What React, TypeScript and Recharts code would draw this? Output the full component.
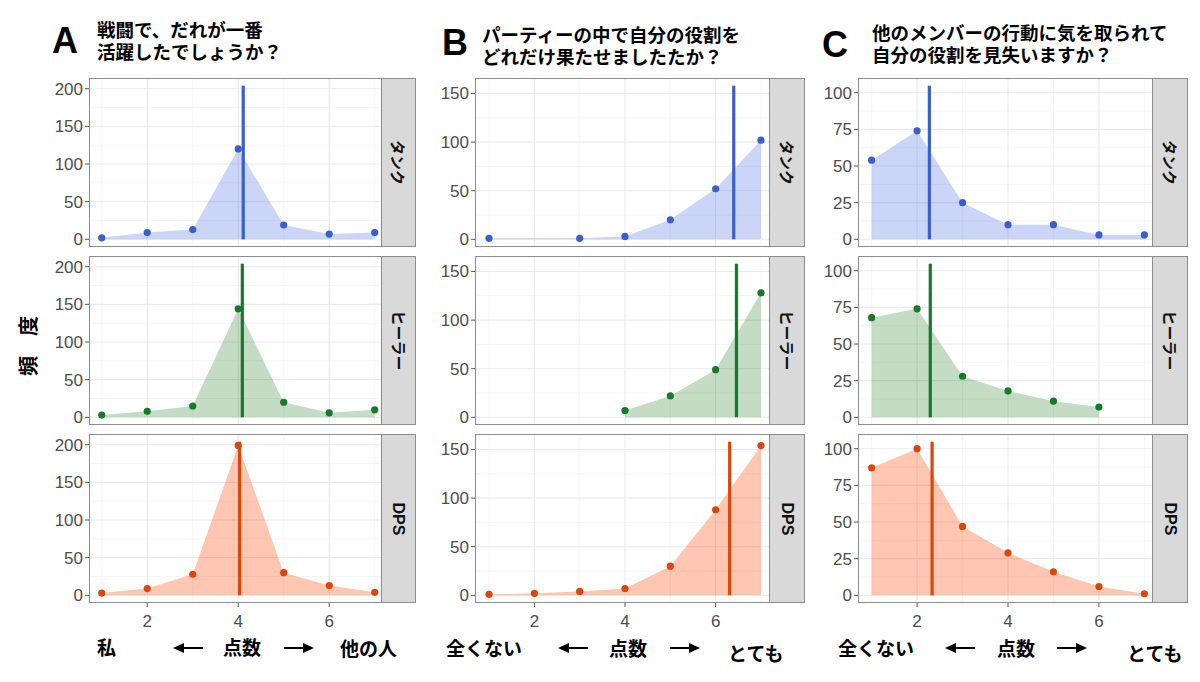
import React from 'react';
import { ComposedChart, Area, Line, XAxis, YAxis, CartesianGrid, ReferenceLine } from 'recharts';

const scores = [1, 2, 3, 4, 5, 6, 7];
const roles = ['タンク', 'ヒーラー', 'DPS'];

// A: 戦闘で、だれが一番活躍したでしょうか？
const aTank = [2, 9, 13, 120, 19, 7, 9];
const aHealer = [3, 8, 15, 144, 20, 6, 10];
const aDps = [3, 9, 28, 199, 30, 13, 4];
const aMeans = [4.11, 4.09, 4.03];

// B: パーティーの中で自分の役割をどれだけ果たせましたたか？
const bTank = [1, null, 1, 3, 20, 52, 102];
const bHealer = [null, null, null, 7, 22, 49, 128];
const bDps = [1, 2, 4, 7, 30, 88, 154];
const bMeans = [6.4, 6.46, 6.31];

// C: 他のメンバーの行動に気を取られて自分の役割を見失いますか？
const cTank = [54, 74, 25, 10, 10, 3, 3];
const cHealer = [68, 74, 28, 18, 11, 7, null];
const cDps = [87, 100, 47, 29, 16, 6, 1];
const cMeans = [2.27, 2.29, 2.33];

// top of the mean line in each column
const meanLineTops = [204, 158, 104.8];

const aTicks = [0, 50, 100, 150, 200];
const aMinor = [25, 75, 125, 175];
const bTicks = [0, 50, 100, 150];
const bMinor = [25, 75, 125];
const cTicks = [0, 25, 50, 75, 100];
const cMinor = [12.5, 37.5, 62.5, 87.5];
const xTicks = [2, 4, 6];
const xMinor = [1, 3, 5, 7];

const roleColors = ['#3A5FCD', '#17792A', '#D9470E'];
const roleFills = ['#4169E1', '#006400', '#FF4500'];
const roleFillOpacity = [0.28, 0.23, 0.3];

const ROW_TOPS = [78, 256, 434];
const PLOT_H = 169;
const Y_W = 60;
const X_H = 34;
const PAD_B = 12;
const BORDER = '#8C8C8C';
const TICK_FONT = { fill: '#4D4D4D', fontSize: 17, fontFamily: 'Liberation Sans, Arial, sans-serif' };
const JP = '"Noto Sans CJK JP", "Noto Sans", sans-serif';

const columns = [
  {
    series: [aTank, aHealer, aDps], means: aMeans, lineTop: meanLineTops[0],
    left: 89, width: 293, strip: 35, xDomain: [0.72, 7.16], yDomain: [-10.2, 214.2], yTicks: aTicks, yMinor: aMinor,
  },
  {
    series: [bTank, bHealer, bDps], means: bMeans, lineTop: meanLineTops[1],
    left: 475, width: 295, strip: 36, xDomain: [0.69, 7.2], yDomain: [-7.9, 165.9], yTicks: bTicks, yMinor: bMinor,
  },
  {
    series: [cTank, cHealer, cDps], means: cMeans, lineTop: meanLineTops[2],
    left: 858, width: 295, strip: 36, xDomain: [0.7, 7.19], yDomain: [-5.24, 110.04], yTicks: cTicks, yMinor: cMinor,
  },
];

function Facet({ col, row }: { col: any; row: number }) {
  const values = col.series[row];
  const data = scores.map((x, i) => ({ x, y: values[i] }));
  const showX = row === 2;
  const top = ROW_TOPS[row];
  const mean = col.means[row];
  return (
    <>
      <div style={{ position: 'absolute', left: col.left - Y_W, top }}>
        <ComposedChart
          width={Y_W + col.width}
          height={PLOT_H + (showX ? X_H : PAD_B)}
          data={data}
          margin={{ top: 0, right: 0, bottom: showX ? 0 : PAD_B, left: 0 }}
        >
          <CartesianGrid horizontalValues={col.yMinor} verticalValues={xMinor} stroke="#F2F2F2" strokeWidth={0.8} />
          <CartesianGrid horizontalValues={col.yTicks} verticalValues={xTicks} stroke="#EAEAEA" strokeWidth={1.1} />
          <XAxis
            type="number"
            dataKey="x"
            domain={col.xDomain}
            ticks={xTicks}
            interval={0}
            allowDataOverflow
            hide={!showX}
            height={X_H}
            axisLine={false}
            tickSize={4}
            tickMargin={8}
            tickLine={{ stroke: '#555' }}
            tick={TICK_FONT}
          />
          <YAxis
            type="number"
            domain={col.yDomain}
            ticks={col.yTicks}
            interval={0}
            allowDataOverflow
            width={Y_W}
            axisLine={false}
            tickSize={4}
            tickLine={{ stroke: '#555' }}
            tick={TICK_FONT}
          />
          <Area
            type="linear"
            dataKey="y"
            baseValue={0}
            connectNulls
            stroke="none"
            fill={roleFills[row]}
            fillOpacity={roleFillOpacity[row]}
            isAnimationActive={false}
          />
          <Line
            type="linear"
            dataKey="y"
            stroke="none"
            dot={{ r: 3.6, fill: roleColors[row], stroke: 'none' }}
            activeDot={false}
            isAnimationActive={false}
          />
          <ReferenceLine
            segment={[{ x: mean, y: 0 }, { x: mean, y: col.lineTop }]}
            stroke={roleColors[row]}
            strokeWidth={3.2}
          />
        </ComposedChart>
      </div>
      <div
        style={{
          position: 'absolute', left: col.left, top, width: col.width, height: PLOT_H,
          border: `1px solid ${BORDER}`, boxSizing: 'border-box', pointerEvents: 'none',
        }}
      />
      <div
        style={{
          position: 'absolute', left: col.left + col.width - 1, top, width: col.strip, height: PLOT_H,
          background: '#D9D9D9', border: `1px solid ${BORDER}`, boxSizing: 'border-box',
          display: 'flex', alignItems: 'center', justifyContent: 'center',
        }}
      >
        <div
          style={{
            transform: 'rotate(90deg)', whiteSpace: 'nowrap', fontWeight: 700, color: '#111',
            fontSize: row === 2 ? 16 : 15,
            fontFamily: row === 2 ? 'Liberation Sans, Arial, sans-serif' : JP,
          }}
        >
          {roles[row]}
        </div>
      </div>
    </>
  );
}

function Arrow({ left, top, dir }: { left: number; top: number; dir: 'l' | 'r' }) {
  return (
    <svg style={{ position: 'absolute', left, top }} width={30} height={12}>
      {dir === 'l' ? (
        <>
          <line x1={9} y1={6} x2={30} y2={6} stroke="#000" strokeWidth={2} />
          <polygon points="0,6 11,1 11,11" fill="#000" />
        </>
      ) : (
        <>
          <line x1={0} y1={6} x2={21} y2={6} stroke="#000" strokeWidth={2} />
          <polygon points="30,6 19,1 19,11" fill="#000" />
        </>
      )}
    </svg>
  );
}

const label = (text: string, left: number, centerY: number) => (
  <div
    style={{
      position: 'absolute', left, top: centerY - 14, height: 28, lineHeight: '28px',
      fontFamily: JP, fontWeight: 700, fontSize: 19, color: '#000', whiteSpace: 'nowrap',
    }}
  >
    {text}
  </div>
);

const letter = (text: string, left: number, top: number) => (
  <div
    style={{
      position: 'absolute', left, top, fontFamily: 'Liberation Sans, Arial, sans-serif',
      fontWeight: 700, fontSize: 36, lineHeight: '36px', color: '#000',
    }}
  >
    {text}
  </div>
);

const title = (lines: string[], left: number, top: number) => (
  <div
    style={{
      position: 'absolute', left, top, lineHeight: '22px',
      fontFamily: JP, fontWeight: 700, fontSize: 18.5, color: '#000', whiteSpace: 'nowrap',
    }}
  >
    {lines[0]}
    <br />
    {lines[1]}
  </div>
);

export default function App() {
  return (
    <div style={{ position: 'absolute', left: 0, top: 0, width: 1200, height: 682, background: '#fff', overflow: 'hidden' }}>
      {letter('A', 52, 23)}
      {title(['戦闘で、だれが一番', '活躍したでしょうか？'], 97, 18)}
      {letter('B', 442, 25)}
      {title(['パーティーの中で自分の役割を', 'どれだけ果たせましたたか？'], 482, 23)}
      {letter('C', 822, 27)}
      {title(['他のメンバーの行動に気を取られて', '自分の役割を見失いますか？'], 872, 21)}

      <div
        style={{
          position: 'absolute', left: 27, top: 346, transform: 'translate(-50%, -50%) rotate(-90deg)',
          fontFamily: JP, fontWeight: 700, fontSize: 20, whiteSpace: 'nowrap', color: '#000',
        }}
      >
        頻　度
      </div>

      {columns.map((col, ci) =>
        [0, 1, 2].map((row) => <Facet key={`${ci}-${row}`} col={col} row={row} />)
      )}

      {label('私', 97, 647)}
      <Arrow left={173} top={642} dir="l" />
      {label('点数', 223, 647)}
      <Arrow left={284} top={642} dir="r" />
      {label('他の人', 340, 648)}

      {label('全くない', 446, 648)}
      <Arrow left={558} top={642} dir="l" />
      {label('点数', 609, 648)}
      <Arrow left={670} top={642} dir="r" />
      {label('とても', 728, 653)}

      {label('全くない', 838, 648)}
      <Arrow left={945} top={642} dir="l" />
      {label('点数', 997, 648)}
      <Arrow left={1057} top={642} dir="r" />
      {label('とても', 1127, 653)}
    </div>
  );
}
